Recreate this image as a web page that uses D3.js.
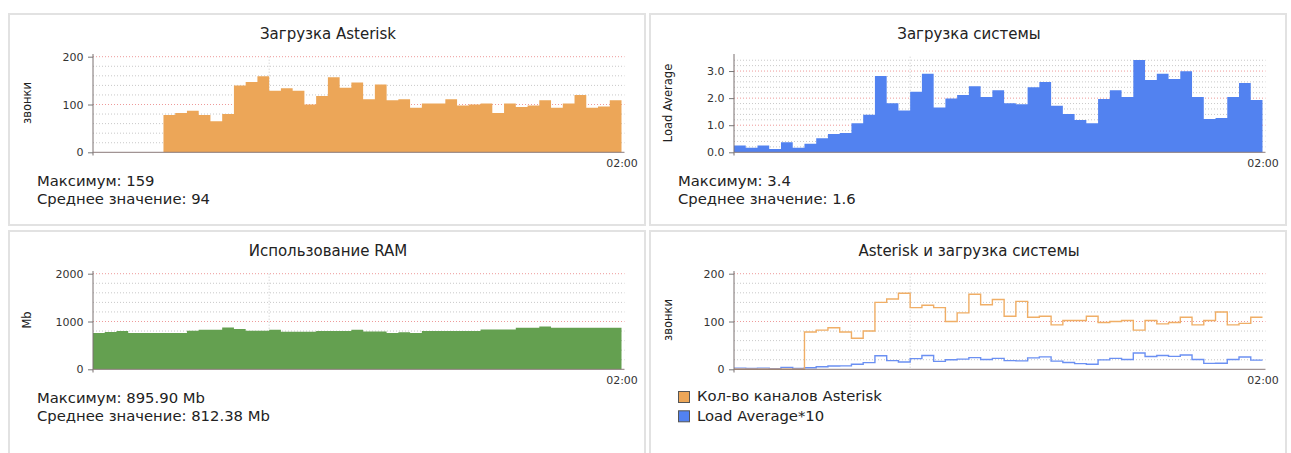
<!DOCTYPE html>
<html><head><meta charset="utf-8">
<script src="https://cdn.jsdelivr.net/npm/d3@7"></script>
<style>
html,body{margin:0;padding:0;background:#fff;}
svg{display:block;font-family:"DejaVu Sans",sans-serif;}
</style></head><body>
<svg id="chart" width="1291" height="453"></svg>
<script>
// ---- data (45 samples, step 1..45; vertical grid after sample 15; last boundary labelled 02:00)
const sampleCount = 45;
const xTickIndex = [45];
const xTickLabels = ["02:00"];
const xGridIndex = [15];

const asteriskCalls = [0,0,0,0,0,0,78,82,87,78,65,80,140,147,159,129,134,129,100,118,157,135,146,111,142,109,111,93,102,102,111,98,100,102,82,102,95,98,109,93,102,120,93,96,109];
const loadAverage = [0.25,0.17,0.25,0.12,0.37,0.17,0.32,0.52,0.68,0.71,1.07,1.39,2.82,1.81,1.54,2.24,2.90,1.65,1.99,2.12,2.44,2.04,2.29,1.81,1.77,2.40,2.60,1.72,1.41,1.19,1.07,1.97,2.29,2.04,3.41,2.67,2.90,2.71,2.99,2.04,1.23,1.27,2.04,2.56,1.93];
const ramUsage = [760,780,800,760,760,760,760,760,805,825,825,875,845,805,805,825,785,785,785,800,800,800,825,790,790,760,775,760,800,800,800,800,800,835,835,835,870,870,896,870,870,870,870,870,870];

const callTicks = [0,100,200];
const loadTicks = [0,1,2,3];
const ramTicks = [0,1000,2000];

const titles = ["Загрузка Asterisk","Загрузка системы","Использование RAM","Asterisk и загрузка системы"];
const yLabels = ["звонки","Load Average","Mb","звонки"];
const statsText = [
  ["Максимум: 159","Среднее значение: 94"],
  ["Максимум: 3.4","Среднее значение: 1.6"],
  ["Максимум: 895.90 Mb","Среднее значение: 812.38 Mb"],
  null
];
const legendLabels = ["Кол-во каналов Asterisk","Load Average*10"];

const colors = {orange:"#eca658", blue:"#5282f0", green:"#64a050"};

// ---- layout
const svg = d3.select("#chart");
const panelOffsets = [[0,0],[641,0],[0,217],[641,217]];
const plotLeft = 93, plotRight = 621.5, axisRight = 624.5;
const yBottom = 152.3, yTop = 56.7;

const x = d3.scaleLinear().domain([0, sampleCount]).range([plotLeft, plotRight]);

function drawPanel(i, cfg){
  const [ox, oy] = panelOffsets[i];
  const g = svg.append("g").attr("transform", `translate(${ox},${oy})`);
  g.append("rect").attr("x", 9).attr("y", 14).attr("width", 636)
    .attr("height", i<2 ? 211 : 260)
    .attr("fill","none").attr("stroke","#e2e2e2").attr("stroke-width",2);

  const y = cfg.y;
  g.append("g").selectAll("line").data(cfg.minor).join("line")
    .attr("x1", plotLeft).attr("x2", axisRight)
    .attr("y1", d=>y(d)).attr("y2", d=>y(d))
    .attr("stroke","#c8c8c8").attr("stroke-width",1).attr("stroke-dasharray","1,2");
  g.append("g").selectAll("line").data(cfg.ticks.filter(d=>d>0)).join("line")
    .attr("x1", plotLeft).attr("x2", axisRight)
    .attr("y1", d=>y(d)).attr("y2", d=>y(d))
    .attr("stroke","#ee9a9a").attr("stroke-width",1).attr("stroke-dasharray","1,2");
  g.append("g").selectAll("line").data(xGridIndex).join("line")
    .attr("x1", d=>x(d)).attr("x2", d=>x(d))
    .attr("y1", yTop).attr("y2", yBottom)
    .attr("stroke","#c8c8c8").attr("stroke-width",1).attr("stroke-dasharray","1,2");

  cfg.draw(g, y);

  const ya = d3.axisLeft(y).tickValues(cfg.ticks).tickSize(5).tickPadding(4.5).tickFormat(cfg.fmt);
  const yg = g.append("g").attr("transform",`translate(${plotLeft},0)`).call(ya);
  yg.select(".domain").remove();
  yg.selectAll(".tick line").attr("stroke","#777");
  yg.selectAll(".tick text").attr("fill","#333").style("font-size","11px").style("font-family","DejaVu Sans");

  g.append("line").attr("x1",plotLeft).attr("x2",plotLeft).attr("y1",54).attr("y2",155.5)
    .attr("stroke","#7a7070").attr("stroke-width",1);
  g.append("line").attr("x1",plotLeft).attr("x2",axisRight).attr("y1",yBottom).attr("y2",yBottom)
    .attr("stroke","#8a7a7a").attr("stroke-width",1);

  const xa = d3.axisBottom(x).tickValues(xTickIndex).tickSize(0).tickPadding(7)
    .tickFormat((d,k)=>xTickLabels[k]);
  const xg = g.append("g").attr("transform",`translate(0,${yBottom})`).call(xa);
  xg.select(".domain").remove();
  xg.selectAll(".tick text").attr("fill","#333").style("font-size","11px").style("font-family","DejaVu Sans");

  g.append("text").attr("x", 328).attr("y", 38.5).attr("text-anchor","middle")
    .attr("fill","#222").style("font-size","15px").text(titles[i]);
  g.append("text").attr("transform","translate(31,103) rotate(-90)").attr("text-anchor","middle")
    .attr("fill","#222").style("font-size","11.5px").text(yLabels[i]);
  if (statsText[i]) {
    g.append("text").attr("x",37).attr("y",185.5).attr("fill","#222").style("font-size","14.8px").text(statsText[i][0]);
    g.append("text").attr("x",37).attr("y",203.5).attr("fill","#222").style("font-size","14.8px").text(statsText[i][1]);
  }
  return g;
}

function stepPoints(values){
  const pts = values.map((v,k)=>[k,v]);
  pts.push([values.length, values[values.length-1]]);
  return pts;
}

function areaDraw(values, color){
  return (g, y) => {
    const area = d3.area().curve(d3.curveStepAfter)
      .x(d=>x(d[0])).y0(y(0)).y1(d=>y(d[1]));
    g.append("path").datum(stepPoints(values)).attr("d", area).attr("fill", color);
  };
}

const yCalls = d3.scaleLinear().domain([0,200]).range([yBottom, yTop]);
const yLoad = d3.scaleLinear().domain([0,3.53]).range([yBottom, yTop]);
const yRam = d3.scaleLinear().domain([0,2000]).range([yBottom, yTop]);

drawPanel(0, {y:yCalls, ticks:callTicks, minor:d3.range(20,200,20).filter(d=>d!==100), fmt:d3.format("d"),
  draw: areaDraw(asteriskCalls, colors.orange)});
drawPanel(1, {y:yLoad, ticks:loadTicks, minor:d3.range(2,35,2).map(d=>d/10).filter(d=>Math.abs(d-Math.round(d))>1e-6), fmt:d3.format(".1f"),
  draw: areaDraw(loadAverage, colors.blue)});
drawPanel(2, {y:yRam, ticks:ramTicks, minor:d3.range(200,2000,200).filter(d=>d!==1000), fmt:d3.format("d"),
  draw: areaDraw(ramUsage, colors.green)});
const g4 = drawPanel(3, {y:yCalls, ticks:callTicks, minor:d3.range(20,200,20).filter(d=>d!==100), fmt:d3.format("d"),
  draw: (g, y) => {
    const line = d3.line().curve(d3.curveStepAfter).x(d=>x(d[0])).y(d=>y(d[1]));
    g.append("path").datum(stepPoints(loadAverage.map(v=>v*10))).attr("d", line)
      .attr("fill","none").attr("stroke","#6b90f2").attr("stroke-width",1.4);
    g.append("path").datum(stepPoints(asteriskCalls)).attr("d", line)
      .attr("fill","none").attr("stroke","#f0ae66").attr("stroke-width",1.4);
  }});
const legendColors = [colors.orange, colors.blue];
const lg = g4.append("g");
legendLabels.forEach((lab,k)=>{
  lg.append("rect").attr("x",37.5).attr("y",174.5+k*19.3).attr("width",11).attr("height",11)
    .attr("fill",legendColors[k]).attr("stroke","#555").attr("stroke-width",1);
  lg.append("text").attr("x",56).attr("y",184.3+k*19.3).attr("fill","#222").style("font-size","14.8px").text(lab);
});
</script>
</body></html>
